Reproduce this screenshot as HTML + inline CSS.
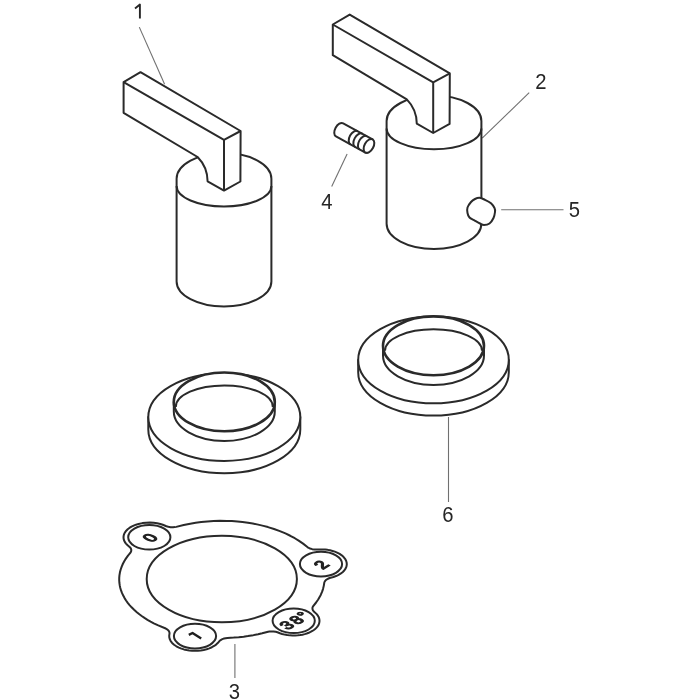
<!DOCTYPE html>
<html><head><meta charset="utf-8"><style>
html,body{margin:0;padding:0;background:#fff;width:700px;height:700px;overflow:hidden}
svg{display:block;will-change:transform}
.s{stroke:#2a2a2a;stroke-width:2;stroke-linejoin:round}
.t2{stroke-width:2.6}
.l line{stroke:#707070;stroke-width:1.1}
.t{font-family:"Liberation Sans",sans-serif;font-size:22.5px;fill:#262626}
.b{font-family:"Liberation Sans",sans-serif;font-size:23px;fill:#222;stroke:#222;stroke-width:1.7}
</style></head><body>
<svg width="700" height="700" viewBox="0 0 700 700">
<g class="l"><line x1="139.3" y1="27.1" x2="164.6" y2="84.3"/><line x1="529.2" y1="92.6" x2="482.2" y2="138.2"/><line x1="347.1" y1="154" x2="331.7" y2="186.6"/><line x1="501.2" y1="209.7" x2="563.5" y2="209.7"/><line x1="448.5" y1="417" x2="448.5" y2="502"/><line x1="234.9" y1="644" x2="234.9" y2="678"/></g>
<path class="s" fill="#fff" d="M 176.6 178.7 L 176.6 281.4 A 47.4 25 0 0 0 271.4 281.4 L 271.4 178.7 A 47.4 25.6 0 0 0 176.6 178.7 Z"/><path class="s" fill="none" d="M 176.6 186 A 47.4 20.5 0 0 0 271.4 186"/>
<path class="s" fill="#fff" d="M 140.5 72.2 L 240.6 131.0 L 240.4 181.5 L 224.0 190.6 L 207.6 181.3 C 207.5 170.0 202.5 162.0 197.6 157.0 L 123.6 112.8 L 123.6 82.1 Z"/><path class="s" fill="none" d="M 123.6 82.1 L 224.0 139.9 L 240.6 131.0 M 224.0 139.9 L 224.0 190.6"/>
<path class="s" fill="#fff" d="M 386.6 121.1 L 386.6 223.8 A 47.4 25.2 0 0 0 481.4 223.8 L 481.4 121.1 A 47.4 25.6 0 0 0 386.6 121.1 Z"/><path class="s" fill="none" d="M 386.6 128.4 A 47.4 20.8 0 0 0 481.4 128.4"/>
<path class="s" fill="#fff" d="M 349.7 14.6 L 449.8 73.4 L 449.6 123.9 L 433.2 133.0 L 416.8 123.7 C 416.7 112.4 411.7 104.4 406.8 99.4 L 332.8 55.2 L 332.8 24.5 Z"/><path class="s" fill="none" d="M 332.8 24.5 L 433.2 82.3 L 449.8 73.4 M 433.2 82.3 L 433.2 133.0"/>
<path class="s" fill="#fff" d="M 479.5 197.8 C 481.2 197.9 483.1 198.9 485.0 199.8 C 486.9 200.7 489.4 201.9 491.0 203.3 C 492.6 204.7 493.8 206.6 494.5 208.0 C 495.2 209.4 495.2 210.3 495.0 212.0 C 494.8 213.7 494.4 216.1 493.5 218.0 C 492.6 219.9 491.1 222.3 489.5 223.5 C 487.9 224.7 485.6 225.0 484.0 225.0 C 482.4 225.0 481.7 224.3 480.0 223.5 C 478.3 222.7 475.8 221.2 474.0 220.2 C 472.2 219.2 470.6 218.7 469.5 217.5 C 468.4 216.3 467.8 214.7 467.5 213.0 C 467.2 211.3 466.9 209.3 467.5 207.5 C 468.1 205.7 469.8 203.4 471.0 202.0 C 472.2 200.6 473.6 199.7 475.0 199.0 C 476.4 198.3 477.8 197.7 479.5 197.8 Z"/>
<g transform="translate(354.5,138) rotate(28.7)"><path class="s" fill="#fff" d="M -17 -7.5 L 16.5 -7.5 L 16.5 7.5 L -17 7.5 A 4.5 7.5 0 0 1 -17 -7.5 Z"/><path class="s" fill="none" d="M -0.5 -7.5 A 4.5 7.5 0 0 0 -0.5 7.5 M 4.8 -7.5 A 4.5 7.5 0 0 0 4.8 7.5 M 10 -7.5 A 4.5 7.5 0 0 0 10 7.5"/><ellipse class="s" fill="#fff" cx="16.5" cy="0" rx="4.5" ry="7.5"/></g>
<path class="s" fill="#fff" d="M 148.3 417.09999999999997 L 148.3 429.4 A 76 43.8292 0 0 0 300.3 429.4 L 300.3 417.09999999999997 Z"/><ellipse class="s" fill="#fff" cx="224.3" cy="417.09999999999997" rx="76" ry="43.8292"/><path class="s" fill="#fff" d="M 173.8 401.9 L 173.8 411.59999999999997 A 50.5 29.4 0 0 0 274.8 411.59999999999997 L 274.8 401.9 Z"/><ellipse class="s t2" fill="#fff" cx="224.3" cy="401.9" rx="50.5" ry="29.4"/><path class="s" fill="none" d="M 175.8 406.9 A 48.5 21.5 0 0 1 272.8 406.9"/>
<path class="s" fill="#fff" d="M 358.2 359.90000000000003 L 358.2 372.20000000000005 A 75.3 43.425509999999996 0 0 0 508.8 372.20000000000005 L 508.8 359.90000000000003 Z"/><ellipse class="s" fill="#fff" cx="433.5" cy="359.90000000000003" rx="75.3" ry="43.425509999999996"/><path class="s" fill="#fff" d="M 383.0 345.8 L 383.0 355.5 A 50.5 29.4 0 0 0 484.0 355.5 L 484.0 345.8 Z"/><ellipse class="s t2" fill="#fff" cx="433.5" cy="345.8" rx="50.5" ry="29.4"/><path class="s" fill="none" d="M 385.0 350.8 A 48.5 21.5 0 0 1 482.0 350.8"/>
<path class="s" fill="#fff" d="M 127.35 545.04 L 130.14 547.42 L 130.99 548.72 L 131.31 550.09 L 131.11 551.47 L 130.48 552.65 L 128.01 555.64 L 125.86 558.64 L 124.39 561.01 L 122.92 563.76 L 121.70 566.55 L 120.61 569.72 L 119.90 572.57 L 119.44 575.43 L 119.23 577.94 L 119.22 580.46 L 119.39 582.98 L 119.75 585.48 L 120.31 587.98 L 121.04 590.46 L 121.97 592.92 L 123.08 595.35 L 124.57 598.10 L 126.06 600.47 L 127.74 602.80 L 129.58 605.08 L 131.60 607.32 L 134.11 609.81 L 136.83 612.23 L 139.37 614.28 L 141.68 615.99 L 144.50 617.92 L 147.47 619.78 L 150.58 621.57 L 153.81 623.28 L 157.67 625.13 L 165.75 628.53 L 166.89 629.19 L 167.86 629.94 L 168.91 631.19 L 169.43 632.39 L 169.53 633.32 L 169.22 635.58 L 169.29 637.34 L 169.77 639.17 L 170.70 641.04 L 172.11 642.90 L 174.07 644.71 L 176.34 646.27 L 178.91 647.61 L 181.44 648.63 L 183.94 649.41 L 186.58 650.02 L 189.31 650.47 L 192.12 650.74 L 195.03 650.83 L 197.88 650.74 L 200.69 650.47 L 203.72 649.96 L 206.63 649.25 L 209.36 648.34 L 211.88 647.24 L 214.14 645.98 L 216.11 644.57 L 217.74 643.06 L 219.44 641.03 L 220.69 640.02 L 221.85 639.36 L 222.94 638.90 L 224.12 638.51 L 225.63 638.16 L 227.48 637.91 L 233.70 637.59 L 238.69 637.19 L 243.64 636.64 L 247.92 636.05 L 253.36 635.14 L 258.11 634.19 L 262.20 633.25 L 268.13 631.73 L 269.42 631.52 L 271.01 631.39 L 273.40 631.45 L 275.73 631.81 L 277.40 632.28 L 279.93 633.26 L 282.13 633.97 L 284.68 634.60 L 287.16 635.05 L 289.88 635.37 L 292.47 635.51 L 295.25 635.51 L 297.83 635.34 L 300.24 635.05 L 302.42 634.66 L 304.70 634.13 L 306.72 633.52 L 308.79 632.75 L 310.58 631.94 L 312.36 630.97 L 313.86 629.99 L 315.17 628.97 L 316.32 627.89 L 317.40 626.62 L 318.19 625.44 L 318.81 624.19 L 319.23 622.94 L 319.45 621.68 L 319.48 620.28 L 319.31 619.02 L 319.00 617.91 L 318.49 616.72 L 317.87 615.65 L 316.47 613.87 L 313.81 611.47 L 312.96 610.35 L 312.46 609.01 L 312.49 607.63 L 312.81 606.74 L 313.24 606.01 L 316.09 602.50 L 318.18 599.49 L 319.60 597.11 L 320.84 594.70 L 322.04 591.90 L 322.99 589.08 L 323.77 585.87 L 324.24 582.78 L 324.62 581.72 L 325.19 580.85 L 325.98 580.04 L 326.97 579.31 L 327.93 578.76 L 329.69 578.05 L 333.41 577.02 L 336.09 576.05 L 338.58 574.88 L 340.92 573.46 L 342.82 571.97 L 344.47 570.22 L 345.68 568.39 L 346.43 566.60 L 346.78 564.66 L 346.68 562.68 L 346.11 560.71 L 345.08 558.82 L 343.62 557.01 L 341.74 555.34 L 339.66 553.93 L 337.09 552.59 L 334.83 551.66 L 332.57 550.93 L 330.02 550.30 L 327.61 549.86 L 325.07 549.55 L 322.30 549.39 L 319.77 549.39 L 316.48 549.55 L 314.59 549.49 L 312.24 549.14 L 310.07 548.51 L 308.79 547.94 L 307.67 547.27 L 303.09 543.65 L 298.68 540.61 L 294.81 538.24 L 290.26 535.76 L 285.44 533.45 L 279.87 531.10 L 274.03 528.98 L 267.96 527.08 L 263.41 525.85 L 258.17 524.62 L 252.81 523.56 L 247.98 522.75 L 242.46 522.02 L 237.51 521.51 L 231.89 521.10 L 226.86 520.89 L 219.94 520.83 L 213.65 521.00 L 207.40 521.40 L 201.20 522.01 L 195.68 522.75 L 190.24 523.66 L 183.73 525.00 L 176.25 526.87 L 174.69 527.12 L 173.08 527.24 L 170.66 527.17 L 168.32 526.79 L 166.41 526.22 L 162.81 524.75 L 160.36 523.99 L 157.12 523.26 L 153.68 522.78 L 149.90 522.57 L 146.11 522.68 L 142.39 523.11 L 138.59 523.90 L 136.01 524.67 L 133.65 525.59 L 131.49 526.64 L 129.38 527.94 L 127.66 529.28 L 126.24 530.69 L 125.02 532.32 L 124.21 533.88 L 123.69 535.52 L 123.50 537.14 L 123.65 538.90 L 124.12 540.51 L 124.89 542.07 L 125.99 543.62 L 127.35 545.04 Z"/>
<ellipse class="s" fill="none" cx="221.8" cy="579" rx="75.1" ry="43.3"/>
<ellipse class="s" fill="none" cx="149.3" cy="537.3" rx="21.1" ry="12.3"/>
<ellipse class="s" fill="none" cx="321" cy="564.1" rx="21.1" ry="12.3"/>
<ellipse class="s" fill="none" cx="293.7" cy="620.8" rx="21.1" ry="12.3"/>
<ellipse class="s" fill="none" cx="195" cy="636.1" rx="21.1" ry="12.3"/>
<g transform="translate(149.7,537.6) scale(1,0.571) rotate(-50)"><text class="b" style="font-size:20px" x="0" y="7.20" text-anchor="middle">0</text></g>
<path fill="none" stroke="#1e1e1e" stroke-width="2.4" stroke-linejoin="round" d="M 188.8 634.8 L 192.5 633 L 201.2 638.4"/>
<g transform="translate(321.2,564.7) scale(1,0.571) rotate(-48)"><text class="b" style="font-size:20px" x="0" y="7.20" text-anchor="middle">2</text></g>
<g transform="translate(286.6,625) scale(1,0.571) rotate(-42)"><text class="b" style="font-size:20px" x="0" y="7.20" text-anchor="middle">3</text></g>
<g transform="translate(296.4,619.9) scale(1,0.571) rotate(-42)"><text class="b" style="font-size:20px" x="0" y="7.20" text-anchor="middle">8</text></g>
<g transform="translate(300.1,613.6) scale(1,0.571) rotate(-42)"><text class="b" style="font-size:20px" x="0" y="11.50" text-anchor="middle">°</text></g>
<path fill="none" stroke="#262626" stroke-width="1.9" stroke-linejoin="round" d="M 135 8.5 L 139.9 4.6 L 139.9 18.6"/>
<text class="t" transform="translate(541,88.8) scale(0.9,1)" x="0" y="0" text-anchor="middle">2</text>
<text class="t" transform="translate(326.8,209) scale(0.9,1)" x="0" y="0" text-anchor="middle">4</text>
<text class="t" transform="translate(574.5,217) scale(0.9,1)" x="0" y="0" text-anchor="middle">5</text>
<text class="t" transform="translate(448,521.9) scale(0.9,1)" x="0" y="0" text-anchor="middle">6</text>
<text class="t" transform="translate(234.3,699.3) scale(0.9,1)" x="0" y="0" text-anchor="middle">3</text>
</svg></body></html>
